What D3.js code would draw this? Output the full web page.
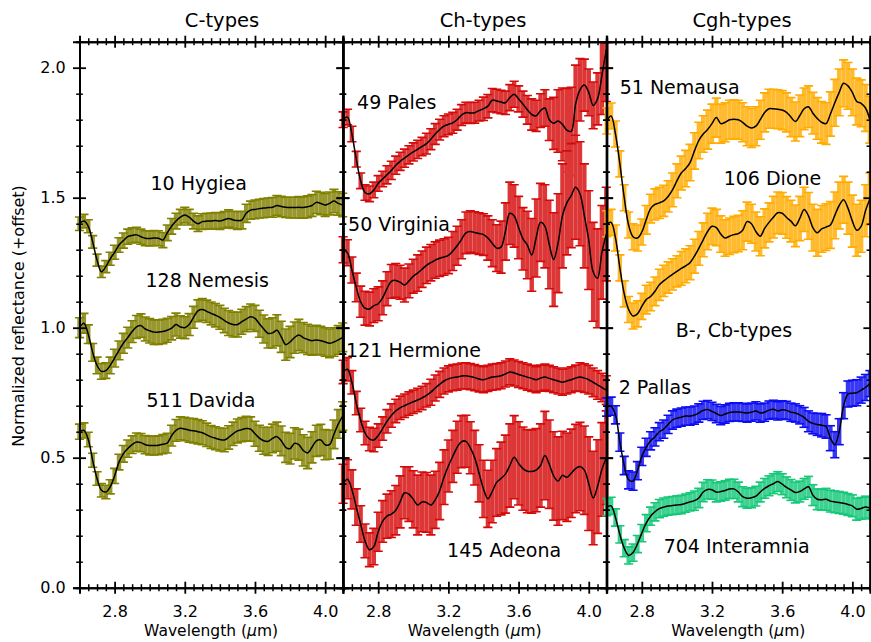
<!DOCTYPE html>
<html><head><meta charset="utf-8">
<script src="https://cdn.jsdelivr.net/npm/d3@7"></script>
<style>body{margin:0;background:#fff}text{font-family:"DejaVu Sans",sans-serif;fill:#000}</style>
</head><body>
<svg id="chart" width="871" height="642"></svg>
<script>
// ---------- DATA ----------
const panelTitles = ["C-types", "Ch-types", "Cgh-types"];
const xTickValues = [2.8, 3.2, 3.6, 4.0];
const yTickValues = [0.0, 0.5, 1.0, 1.5, 2.0];
const wavelength = [2.600,2.625,2.650,2.675,2.700,2.725,2.750,2.775,2.800,2.825,
  2.850,2.875,2.900,2.925,2.950,2.975,3.000,3.025,3.050,3.075,
  3.100,3.125,3.150,3.175,3.200,3.225,3.250,3.275,3.300,3.325,
  3.350,3.375,3.400,3.425,3.450,3.475,3.500,3.525,3.550,3.575,
  3.600,3.625,3.650,3.675,3.700,3.725,3.750,3.775,3.800,3.825,
  3.850,3.875,3.900,3.925,3.950,3.975,4.000,4.025,4.050,4.075,4.100];

// C-types
const hygiea = [1.40,1.41,1.39,1.33,1.26,1.215,1.235,1.265,1.29,1.318,
  1.335,1.35,1.355,1.357,1.35,1.344,1.343,1.345,1.344,1.337,
  1.365,1.39,1.41,1.425,1.433,1.425,1.41,1.40,1.408,1.41,
  1.41,1.412,1.41,1.415,1.42,1.415,1.412,1.414,1.44,1.452,
  1.455,1.458,1.46,1.462,1.463,1.47,1.466,1.463,1.462,1.462,
  1.463,1.462,1.465,1.47,1.482,1.478,1.472,1.478,1.487,1.478,1.472];
const hygieaErr = [0.026,0.026,0.025,0.024,0.023,0.022,0.023,0.025,0.027,0.028,
  0.029,0.029,0.029,0.029,0.029,0.029,0.029,0.029,0.029,0.029,
  0.03,0.03,0.03,0.03,0.03,0.03,0.03,0.03,0.03,0.03,
  0.031,0.031,0.032,0.032,0.033,0.033,0.034,0.034,0.035,0.035,
  0.036,0.036,0.037,0.037,0.038,0.038,0.039,0.039,0.04,0.04,
  0.041,0.041,0.042,0.042,0.043,0.043,0.044,0.044,0.045,0.045,0.045];
const nemesis = [1.00,1.017,0.975,0.905,0.855,0.832,0.835,0.855,0.883,0.913,
  0.94,0.962,0.985,1.003,1.008,0.995,0.988,0.983,0.983,0.985,
  0.99,0.998,1.012,1.003,1.0,1.012,1.04,1.065,1.07,1.063,
  1.055,1.048,1.04,1.028,1.018,1.012,1.012,1.023,1.033,1.042,
  1.036,1.015,0.995,0.978,0.98,0.99,0.965,0.935,0.945,0.962,
  0.972,0.962,0.955,0.95,0.953,0.95,0.945,0.94,0.945,0.953,0.963];
const nemesisErr = [0.038,0.038,0.036,0.034,0.032,0.03,0.03,0.032,0.034,0.036,
  0.038,0.04,0.042,0.044,0.045,0.046,0.047,0.047,0.047,0.047,
  0.046,0.045,0.044,0.043,0.042,0.042,0.042,0.042,0.042,0.043,
  0.044,0.045,0.046,0.047,0.048,0.048,0.048,0.048,0.048,0.049,
  0.05,0.052,0.054,0.056,0.058,0.06,0.06,0.06,0.06,0.06,
  0.06,0.058,0.058,0.056,0.056,0.055,0.055,0.055,0.055,0.055,0.055];
const davida = [0.60,0.605,0.57,0.49,0.42,0.375,0.368,0.388,0.43,0.483,
  0.515,0.535,0.55,0.56,0.558,0.55,0.547,0.547,0.548,0.552,
  0.556,0.585,0.605,0.613,0.61,0.606,0.604,0.60,0.596,0.588,
  0.58,0.575,0.57,0.568,0.578,0.592,0.603,0.608,0.612,0.61,
  0.592,0.575,0.565,0.563,0.574,0.581,0.565,0.54,0.535,0.555,
  0.55,0.528,0.518,0.54,0.565,0.568,0.55,0.55,0.59,0.63,0.66];
const davidaErr = [0.029,0.029,0.028,0.027,0.026,0.026,0.026,0.027,0.029,0.03,
  0.032,0.033,0.034,0.035,0.035,0.035,0.036,0.036,0.036,0.037,
  0.038,0.04,0.042,0.044,0.045,0.046,0.047,0.047,0.046,0.045,
  0.044,0.044,0.044,0.045,0.045,0.045,0.046,0.046,0.047,0.047,
  0.048,0.05,0.052,0.054,0.055,0.056,0.057,0.058,0.059,0.06,
  0.06,0.06,0.06,0.06,0.06,0.06,0.058,0.056,0.055,0.055,0.055];

// Ch-types
const pales = [1.80,1.81,1.745,1.648,1.565,1.52,1.515,1.53,1.555,1.572,
  1.588,1.605,1.625,1.64,1.652,1.665,1.676,1.686,1.697,1.708,
  1.725,1.745,1.762,1.775,1.782,1.788,1.80,1.818,1.827,1.826,
  1.827,1.835,1.842,1.852,1.875,1.872,1.868,1.865,1.885,1.898,
  1.88,1.86,1.838,1.82,1.815,1.835,1.845,1.80,1.786,1.795,
  1.782,1.76,1.755,1.86,1.915,1.933,1.905,1.855,1.88,1.97,2.07];
const palesErr = [0.03,0.03,0.03,0.03,0.03,0.03,0.03,0.03,0.03,0.03,
  0.035,0.035,0.035,0.035,0.035,0.035,0.035,0.035,0.035,0.04,
  0.04,0.04,0.04,0.04,0.04,0.04,0.04,0.04,0.04,0.04,
  0.04,0.04,0.045,0.045,0.045,0.045,0.045,0.045,0.05,0.05,
  0.05,0.05,0.055,0.06,0.06,0.065,0.07,0.08,0.1,0.12,
  0.14,0.16,0.17,0.15,0.12,0.1,0.09,0.09,0.1,0.15,0.2];
const virginia = [1.30,1.288,1.222,1.155,1.10,1.075,1.072,1.085,1.092,1.115,
  1.15,1.178,1.182,1.175,1.164,1.18,1.198,1.21,1.225,1.24,
  1.25,1.26,1.267,1.272,1.278,1.295,1.315,1.34,1.365,1.37,
  1.366,1.362,1.358,1.345,1.325,1.306,1.31,1.37,1.44,1.43,
  1.385,1.342,1.318,1.28,1.345,1.405,1.39,1.32,1.262,1.325,
  1.43,1.48,1.508,1.54,1.515,1.43,1.337,1.215,1.19,1.29,1.36];
const virginiaErr = [0.05,0.05,0.05,0.055,0.06,0.065,0.065,0.065,0.065,0.065,
  0.065,0.065,0.065,0.065,0.065,0.065,0.065,0.07,0.07,0.07,
  0.07,0.07,0.07,0.07,0.07,0.075,0.075,0.075,0.08,0.08,
  0.08,0.08,0.08,0.085,0.09,0.09,0.1,0.11,0.12,0.12,
  0.12,0.12,0.13,0.14,0.15,0.15,0.16,0.17,0.18,0.19,
  0.2,0.2,0.2,0.2,0.2,0.2,0.19,0.19,0.19,0.18,0.18];
const hermione = [0.83,0.84,0.79,0.71,0.645,0.595,0.572,0.568,0.585,0.612,
  0.64,0.662,0.68,0.692,0.70,0.708,0.715,0.722,0.73,0.74,
  0.752,0.768,0.782,0.795,0.803,0.808,0.81,0.814,0.815,0.812,
  0.808,0.803,0.80,0.805,0.81,0.812,0.815,0.822,0.83,0.826,
  0.82,0.815,0.81,0.805,0.80,0.806,0.81,0.805,0.80,0.795,
  0.79,0.795,0.80,0.806,0.81,0.806,0.80,0.79,0.78,0.77,0.76];
const hermioneErr = [0.045,0.045,0.045,0.045,0.045,0.045,0.045,0.045,0.045,0.045,
  0.045,0.045,0.045,0.045,0.045,0.045,0.045,0.045,0.045,0.045,
  0.05,0.05,0.05,0.05,0.05,0.05,0.05,0.05,0.05,0.05,
  0.05,0.05,0.05,0.05,0.05,0.05,0.05,0.05,0.05,0.05,
  0.05,0.05,0.05,0.05,0.05,0.05,0.05,0.05,0.05,0.05,
  0.05,0.05,0.05,0.05,0.055,0.055,0.055,0.055,0.055,0.055,0.055];
const adeona = [0.40,0.417,0.378,0.31,0.245,0.18,0.146,0.158,0.215,0.255,
  0.275,0.283,0.298,0.33,0.365,0.36,0.34,0.318,0.33,0.328,
  0.318,0.338,0.372,0.425,0.468,0.505,0.54,0.562,0.563,0.538,
  0.50,0.44,0.38,0.342,0.37,0.405,0.42,0.437,0.47,0.502,
  0.478,0.458,0.448,0.447,0.452,0.47,0.508,0.475,0.43,0.41,
  0.432,0.425,0.44,0.458,0.466,0.452,0.40,0.345,0.389,0.455,0.50];
const adeonaErr = [0.075,0.075,0.075,0.07,0.07,0.065,0.065,0.07,0.075,0.08,
  0.085,0.09,0.095,0.1,0.1,0.105,0.11,0.115,0.115,0.115,
  0.115,0.11,0.11,0.105,0.1,0.1,0.1,0.1,0.1,0.1,
  0.105,0.11,0.11,0.11,0.12,0.13,0.14,0.15,0.16,0.16,
  0.16,0.16,0.16,0.16,0.16,0.16,0.17,0.17,0.17,0.17,
  0.17,0.17,0.17,0.17,0.17,0.17,0.18,0.18,0.18,0.18,0.18];

// Cgh-types
const nemausa = [1.795,1.814,1.745,1.63,1.50,1.395,1.35,1.345,1.368,1.415,
  1.458,1.474,1.48,1.488,1.505,1.53,1.565,1.595,1.612,1.635,
  1.68,1.72,1.745,1.762,1.785,1.808,1.785,1.79,1.80,1.802,
  1.80,1.79,1.775,1.768,1.775,1.80,1.828,1.842,1.842,1.84,
  1.837,1.828,1.81,1.793,1.815,1.842,1.85,1.825,1.805,1.79,
  1.785,1.822,1.865,1.905,1.94,1.93,1.905,1.87,1.863,1.845,1.80];
const nemausaErr = [0.05,0.05,0.05,0.05,0.05,0.05,0.05,0.05,0.05,0.055,
  0.055,0.06,0.06,0.06,0.06,0.065,0.065,0.065,0.07,0.07,
  0.07,0.07,0.07,0.075,0.075,0.075,0.075,0.075,0.075,0.075,
  0.075,0.075,0.075,0.075,0.075,0.075,0.075,0.075,0.075,0.075,
  0.075,0.075,0.075,0.075,0.08,0.08,0.08,0.08,0.08,0.08,
  0.08,0.085,0.09,0.09,0.09,0.09,0.09,0.09,0.09,0.09,0.09];
const dione = [1.40,1.405,1.345,1.23,1.13,1.07,1.045,1.053,1.082,1.108,
  1.12,1.14,1.165,1.18,1.193,1.205,1.217,1.228,1.238,1.25,
  1.275,1.305,1.338,1.37,1.39,1.385,1.36,1.345,1.352,1.358,
  1.362,1.375,1.408,1.40,1.37,1.352,1.382,1.405,1.425,1.442,
  1.44,1.424,1.41,1.392,1.42,1.455,1.43,1.385,1.365,1.38,
  1.387,1.395,1.432,1.47,1.492,1.46,1.41,1.375,1.39,1.45,1.495];
const dioneErr = [0.05,0.05,0.05,0.05,0.05,0.05,0.05,0.05,0.05,0.055,
  0.055,0.055,0.06,0.06,0.06,0.06,0.06,0.065,0.065,0.065,
  0.065,0.065,0.065,0.07,0.07,0.07,0.07,0.07,0.07,0.07,
  0.07,0.075,0.075,0.075,0.075,0.075,0.075,0.075,0.08,0.08,
  0.08,0.08,0.08,0.08,0.085,0.085,0.09,0.09,0.09,0.09,
  0.09,0.09,0.09,0.09,0.09,0.1,0.1,0.1,0.1,0.1,0.1];

// B-, Cb-types
const pallas = [0.695,0.698,0.665,0.56,0.47,0.415,0.41,0.45,0.505,0.54,
  0.565,0.58,0.60,0.61,0.628,0.645,0.652,0.656,0.66,0.66,
  0.664,0.672,0.682,0.685,0.678,0.67,0.662,0.668,0.674,0.676,
  0.676,0.674,0.672,0.675,0.68,0.672,0.675,0.683,0.686,0.68,
  0.684,0.682,0.675,0.672,0.665,0.655,0.64,0.632,0.628,0.625,
  0.62,0.575,0.55,0.60,0.70,0.745,0.748,0.75,0.76,0.77,0.785];
const pallasErr = [0.035,0.035,0.035,0.035,0.035,0.035,0.035,0.035,0.035,0.035,
  0.035,0.035,0.035,0.035,0.035,0.035,0.035,0.035,0.035,0.035,
  0.035,0.035,0.035,0.035,0.035,0.035,0.035,0.035,0.035,0.035,
  0.035,0.035,0.035,0.035,0.035,0.035,0.035,0.035,0.035,0.035,
  0.035,0.035,0.035,0.035,0.035,0.038,0.04,0.04,0.042,0.045,
  0.045,0.048,0.05,0.05,0.05,0.05,0.05,0.05,0.05,0.05,0.05];
const interamnia = [0.31,0.315,0.27,0.205,0.152,0.124,0.135,0.168,0.21,0.248,
  0.275,0.292,0.304,0.31,0.314,0.316,0.318,0.32,0.325,0.33,
  0.335,0.345,0.368,0.378,0.377,0.367,0.37,0.374,0.38,0.38,
  0.368,0.35,0.344,0.346,0.352,0.368,0.382,0.392,0.40,0.408,
  0.398,0.386,0.376,0.366,0.37,0.38,0.388,0.356,0.34,0.338,
  0.34,0.333,0.33,0.328,0.325,0.32,0.315,0.302,0.305,0.31,0.306];
const interamniaErr = [0.033,0.033,0.033,0.033,0.033,0.033,0.033,0.033,0.033,0.033,
  0.035,0.035,0.035,0.035,0.035,0.035,0.035,0.035,0.035,0.035,
  0.037,0.037,0.037,0.037,0.037,0.037,0.037,0.037,0.037,0.037,
  0.038,0.038,0.038,0.038,0.038,0.038,0.038,0.038,0.038,0.038,
  0.04,0.04,0.04,0.04,0.04,0.04,0.04,0.04,0.04,0.04,
  0.042,0.042,0.042,0.042,0.042,0.042,0.042,0.042,0.042,0.042,0.042];

const seriesNames = ["10 Hygiea","128 Nemesis","511 Davida","49 Pales","50 Virginia","121 Hermione",
  "145 Adeona","51 Nemausa","106 Dione","2 Pallas","704 Interamnia"];
const seriesValues = [hygiea,nemesis,davida,pales,virginia,hermione,adeona,nemausa,dione,pallas,interamnia];
const seriesErrors = [hygieaErr,nemesisErr,davidaErr,palesErr,virginiaErr,hermioneErr,adeonaErr,nemausaErr,dioneErr,pallasErr,interamniaErr];
const seriesPanel = [0,0,0,1,1,1,1,2,2,2,2];
const extraLabel = "B-, Cb-types";

// ---------- LAYOUT / STYLE ----------
const colors = ["#808000","#808000","#808000","#d40a0a","#d40a0a","#d40a0a","#d40a0a",
  "#ffab00","#ffab00","#0c0cf2","#14c878"];
const labelPos = [[71,190],[66,287],[67,407],[14,109],[5,231],[3,357],[104,557],[13,94],[117,185],[69,337],[12,394],[57,553]];
const titlePos = [[222,27],[483,27],[742,27]];

const panelLeft = [79.5, 343.1, 606.7];
const panelW = 263.2;
const yTopPx = 41.7, yBotPx = 587.7;
const FONT_TICK = 16, FONT_TITLE = 19.5, FONT_LABEL = 19, FONT_AXIS = 15.5;

const svg = d3.select("#chart");
const y = d3.scaleLinear().domain([0, 2.1]).range([yBotPx, yTopPx]);
const xs = panelLeft.map(l => d3.scaleLinear().domain([2.6, 4.1]).range([l, l + panelW]));

const defs = svg.append("defs");
panelLeft.forEach((l, i) => {
  defs.append("clipPath").attr("id", "clip" + i).append("rect")
    .attr("x", l - 6).attr("y", yTopPx).attr("width", panelW + 12).attr("height", yBotPx - yTopPx);
});

// ---------- SERIES ----------
const barsLayer = svg.append("g");
const linesLayer = svg.append("g");
seriesValues.forEach((vals, si) => {
  const p = seriesPanel[si];
  const x = xs[p];
  const errs = seriesErrors[si];
  const pts = vals.map((v, i) => ({w: wavelength[i], v, e: errs[i]}));
  const step = x(wavelength[1]) - x(wavelength[0]);
  const light = d3.interpolateRgb(colors[si], "#ffffff")(0.18);
  const g = barsLayer.append("g").attr("clip-path", `url(#clip${p})`);
  g.selectAll("line.v").data(pts).join("line").attr("class", "v")
    .attr("x1", d => x(d.w)).attr("x2", d => x(d.w))
    .attr("y1", d => y(d.v - d.e)).attr("y2", d => y(d.v + d.e))
    .attr("stroke", light).attr("stroke-width", step);
  ["lo", "hi"].forEach(k => {
    g.selectAll("line." + k).data(pts).join("line").attr("class", k)
      .attr("x1", d => x(d.w) - 4.6).attr("x2", d => x(d.w) + 4.6)
      .attr("y1", d => y(k === "lo" ? d.v - d.e : d.v + d.e))
      .attr("y2", d => y(k === "lo" ? d.v - d.e : d.v + d.e))
      .attr("stroke", colors[si]).attr("stroke-width", 1.6);
  });
  const line = d3.line().x(d => x(d.w)).y(d => y(d.v)).curve(d3.curveCatmullRom.alpha(0.5));
  linesLayer.append("path").datum(pts).attr("clip-path", `url(#clip${p})`)
    .attr("d", line).attr("fill", "none").attr("stroke", "#000").attr("stroke-width", 1.5);
});

// ---------- AXES ----------
const fmt = d3.format(".1f");
function styleAxis(g, major) {
  g.select(".domain").attr("stroke", "#000").attr("stroke-width", 2);
  g.selectAll(".tick line").attr("stroke", "#000").attr("stroke-width", major ? 1.8 : 1.5);
}
xs.forEach((x, p) => {
  const minorX = x.ticks(30).filter(t => !xTickValues.some(m => Math.abs(m - t) < 1e-6));
  const minorY = y.ticks(21).filter(t => !yTickValues.some(m => Math.abs(m - t) < 1e-6));
  const gb = svg.append("g").attr("transform", `translate(0,${yBotPx})`)
    .call(d3.axisBottom(x).tickValues(xTickValues).tickFormat(fmt).tickSizeOuter(0).tickSize(6).tickPadding(11.5));
  gb.selectAll(".tick line").attr("y1", -6).attr("y2", 6);
  gb.selectAll(".tick text").attr("font-size", FONT_TICK).attr("font-family", "DejaVu Sans");
  styleAxis(gb, true);
  const gbm = svg.append("g").attr("transform", `translate(0,${yBotPx})`)
    .call(d3.axisBottom(x).tickValues(minorX).tickFormat("").tickSizeOuter(0).tickSize(3.5));
  gbm.selectAll(".tick line").attr("y1", -3.5).attr("y2", 3.5);
  styleAxis(gbm, false);
  const gt = svg.append("g").attr("transform", `translate(0,${yTopPx})`)
    .call(d3.axisTop(x).tickValues(xTickValues).tickFormat("").tickSizeOuter(0).tickSize(6));
  gt.selectAll(".tick line").attr("y1", -6).attr("y2", 6);
  styleAxis(gt, true);
  const gtm = svg.append("g").attr("transform", `translate(0,${yTopPx})`)
    .call(d3.axisTop(x).tickValues(minorX).tickFormat("").tickSizeOuter(0).tickSize(3.5));
  gtm.selectAll(".tick line").attr("y1", -3.5).attr("y2", 3.5);
  styleAxis(gtm, false);
  const gl = svg.append("g").attr("transform", `translate(${panelLeft[p]},0)`)
    .call(d3.axisLeft(y).tickValues(yTickValues).tickFormat(p === 0 ? fmt : "").tickSizeOuter(0).tickSize(6.5).tickPadding(7.3));
  gl.selectAll(".tick line").attr("x1", -6.5).attr("x2", 6.5);
  gl.selectAll(".tick text").attr("font-size", FONT_TICK).attr("font-family", "DejaVu Sans");
  styleAxis(gl, true);
  const glm = svg.append("g").attr("transform", `translate(${panelLeft[p]},0)`)
    .call(d3.axisLeft(y).tickValues(minorY).tickFormat("").tickSizeOuter(0).tickSize(3.3));
  glm.selectAll(".tick line").attr("x1", -3.3).attr("x2", 3.3);
  styleAxis(glm, false);
  const gr = svg.append("g").attr("transform", `translate(${panelLeft[p] + panelW},0)`)
    .call(d3.axisRight(y).tickValues(yTickValues).tickFormat("").tickSizeOuter(0).tickSize(6.5));
  gr.selectAll(".tick line").attr("x1", -6.5).attr("x2", 6.5);
  styleAxis(gr, true);
  const grm = svg.append("g").attr("transform", `translate(${panelLeft[p] + panelW},0)`)
    .call(d3.axisRight(y).tickValues(minorY).tickFormat("").tickSizeOuter(0).tickSize(3.3));
  grm.selectAll(".tick line").attr("x1", -3.3).attr("x2", 3.3);
  styleAxis(grm, false);

  const xt = svg.append("text").attr("x", panelLeft[p] + panelW / 2).attr("y", 635.5)
    .attr("text-anchor", "middle").attr("font-size", FONT_AXIS);
  xt.append("tspan").text("Wavelength (");
  xt.append("tspan").attr("font-style", "italic").text("\u03bc");
  xt.append("tspan").text("m)");

  svg.append("text").attr("x", titlePos[p][0]).attr("y", titlePos[p][1])
    .attr("text-anchor", "middle").attr("font-size", FONT_TITLE).text(panelTitles[p]);
});

svg.append("text").attr("transform", "translate(24,316) rotate(-90)")
  .attr("text-anchor", "middle").attr("font-size", 16).text("Normalized reflectance (+offset)");

// series labels (B-, Cb-types group label inserted before 2 Pallas)
const labelTexts = seriesNames.slice(0, 9).concat([extraLabel], seriesNames.slice(9));
const labelPanels = seriesPanel.slice(0, 9).concat([2], seriesPanel.slice(9));
labelTexts.forEach((n, i) => {
  svg.append("text").attr("x", panelLeft[labelPanels[i]] + labelPos[i][0]).attr("y", labelPos[i][1])
    .attr("font-size", FONT_LABEL).text(n);
});
</script>
</body></html>
